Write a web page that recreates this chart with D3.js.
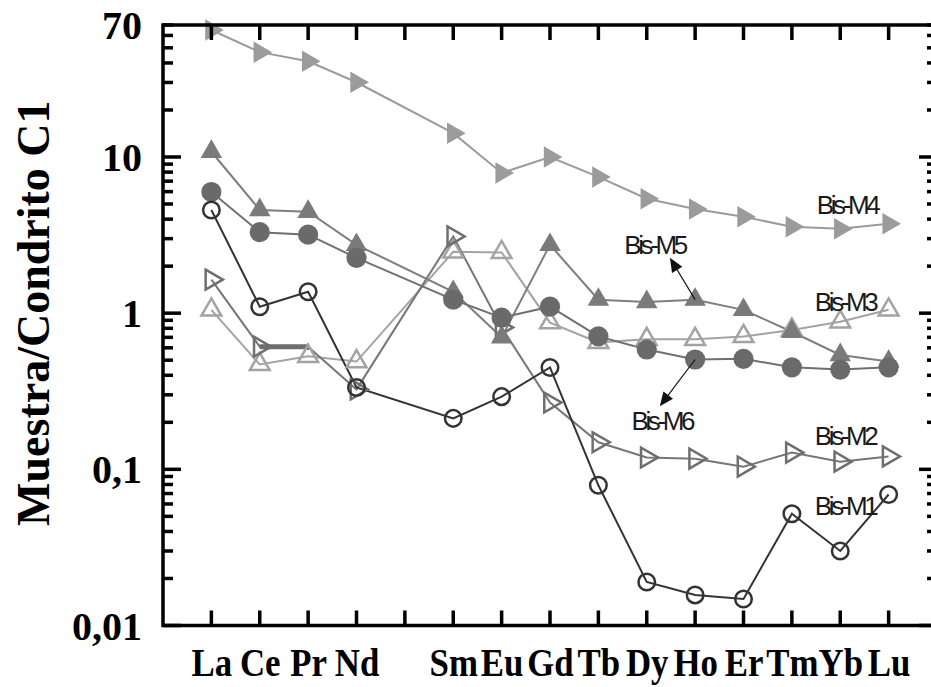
<!DOCTYPE html>
<html>
<head>
<meta charset="utf-8">
<script src="https://cdn.jsdelivr.net/npm/d3@7"></script>
<style>
  body { margin: 0; background: #fff; }
  svg { display: block; }
</style>
</head>
<body>
<svg id="chart"></svg>
<script>
// REE elements (Pm has no value and no label)
const elements = ["La", "Ce", "Pr", "Nd", "Pm", "Sm", "Eu", "Gd", "Tb", "Dy", "Ho", "Er", "Tm", "Yb", "Lu"];
const elementLabels = ["La", "Ce", "Pr", "Nd", "", "Sm", "Eu", "Gd", "Tb", "Dy", "Ho", "Er", "Tm", "Yb", "Lu"];

// sample / chondrite C1 values
const bisM1 = [4.58, 1.10, 1.37, 0.334, null, 0.212, 0.292, 0.449, 0.079, 0.019, 0.0157, 0.0148, 0.052, 0.030, 0.069];
const bisM2 = [1.64, 0.61, 0.61, 0.325, null, 3.1, 0.81, 0.268, 0.149, 0.119, 0.117, 0.104, 0.128, 0.112, 0.121];
const bisM3 = [1.05, 0.47, 0.53, 0.49, null, 2.47, 2.45, 0.87, 0.65, 0.68, 0.68, 0.71, 0.78, 0.88, 1.05];
const bisM4 = [65, 46.9, 41, 30.1, null, 14.2, 7.9, 10.0, 7.45, 5.4, 4.65, 4.14, 3.57, 3.47, 3.73];
const bisM5 = [10.8, 4.58, 4.46, 2.74, null, 1.37, 0.70, 2.74, 1.22, 1.18, 1.22, 1.05, 0.76, 0.54, 0.49];
const bisM6 = [5.97, 3.3, 3.18, 2.26, null, 1.22, 0.935, 1.10, 0.71, 0.585, 0.505, 0.51, 0.45, 0.435, 0.45];

// Bis-M2: the Pr point shows as a thick bar from Ce instead of a marker
const bisM2NoMarker = [2];

// y tick labels
const yLabelValues = [0.01, 0.1, 1, 10, 70];
const yLabelText = ["0,01", "0,1", "1", "10", "70"];

// series labels (x in element index units, y in data units)
const labelNames = ["Bis-M4", "Bis-M5", "Bis-M3", "Bis-M6", "Bis-M2", "Bis-M1"];
const labelX = [13.14, 9.16, 13.1, 9.31, 13.1, 13.1];
const labelY = [4.9, 2.74, 1.18, 0.203, 0.163, 0.058];

// arrows: from the Ho point of a series to a tip near its label
const arrowSeries = ["Bis-M5", "Bis-M6"];
const arrowFromIndex = [10, 10];
const arrowTipX = [9.48, 9.27];
const arrowTipY = [2.26, 0.253];

const serifBold = '"Liberation Serif", "Times New Roman", serif';

class reePlot {
    constructor(_config) {
        this.config = {
            parentElement: _config.parentElement,
            containerWidth: _config.containerWidth || 931,
            containerHeight: _config.containerHeight || 687,
            margin: _config.margin || {top: 25, right: -6, bottom: 61.5, left: 163}
        };
        this.series = [
            {name: "Bis-M3", values: bisM3, symbol: d3.symbolTriangle, size: 170, rotate: 0, fill: "none", stroke: "#a3a3a3", line: "#a3a3a3"},
            {name: "Bis-M2", values: bisM2, symbol: d3.symbolTriangle, size: 170, rotate: 90, fill: "none", stroke: "#6e6e6e", line: "#767676", skip: bisM2NoMarker},
            {name: "Bis-M4", values: bisM4, symbol: d3.symbolTriangle, size: 200, rotate: 90, fill: "#9b9b9b", stroke: "none", line: "#9b9b9b"},
            {name: "Bis-M5", values: bisM5, symbol: d3.symbolTriangle, size: 200, rotate: 0, fill: "#7a7a7a", stroke: "none", line: "#7e7e7e"},
            {name: "Bis-M6", values: bisM6, symbol: d3.symbolCircle, size: 320, rotate: 0, fill: "#6a6a6a", stroke: "none", line: "#707070"},
            {name: "Bis-M1", values: bisM1, symbol: d3.symbolCircle, size: 215, rotate: 0, fill: "none", stroke: "#333", line: "#333"}
        ];
        this.initVis();
    }

    initVis() {
        let vis = this;
        const m = vis.config.margin;
        vis.width = vis.config.containerWidth - m.left - m.right;
        vis.height = vis.config.containerHeight - m.top - m.bottom;

        vis.svg = d3.select(vis.config.parentElement)
            .attr('width', vis.config.containerWidth)
            .attr('height', vis.config.containerHeight);

        vis.chart = vis.svg.append('g')
            .attr('transform', `translate(${m.left},${m.top})`);

        vis.xScale = d3.scaleLinear()
            .domain([-1, elements.length])
            .range([0, vis.width]);

        vis.yScale = d3.scaleLog()
            .domain([0.01, 70])
            .range([vis.height, 0]);

        vis.updateVis();
    }

    updateVis() {
        let vis = this;
        vis.line = d3.line()
            .x(d => vis.xScale(d.i))
            .y(d => vis.yScale(d.v));
        vis.renderVis();
    }

    renderVis() {
        let vis = this;
        const m = vis.config.margin;
        const idx = d3.range(elements.length);

        // lines then markers
        vis.series.forEach(s => {
            const pts = s.values.map((v, i) => ({i: i, v: v})).filter(d => d.v !== null);
            vis.chart.append('path')
                .datum(pts)
                .attr('d', vis.line)
                .attr('fill', 'none')
                .attr('stroke', s.line)
                .attr('stroke-width', 2);
            if (s.skip) {
                // thick bar up to the hidden point
                s.skip.forEach(j => {
                    vis.chart.append('path')
                        .datum([{i: j - 1, v: s.values[j - 1]}, {i: j, v: s.values[j]}])
                        .attr('d', vis.line)
                        .attr('fill', 'none')
                        .attr('stroke', s.stroke)
                        .attr('stroke-width', 5);
                    vis.chart.append('path')
                        .datum([{i: j, v: s.values[j] * 1.05}, {i: j, v: s.values[j] / 1.05}])
                        .attr('d', vis.line)
                        .attr('fill', 'none')
                        .attr('stroke', s.stroke)
                        .attr('stroke-width', 2);
                });
            }
        });
        vis.series.forEach(s => {
            const pts = s.values.map((v, i) => ({i: i, v: v}))
                .filter(d => d.v !== null && !(s.skip || []).includes(d.i));
            vis.chart.append('g').selectAll('path')
                .data(pts)
                .join('path')
                .attr('d', d3.symbol().type(s.symbol).size(s.size))
                .attr('transform', d => `translate(${vis.xScale(d.i)},${vis.yScale(d.v)}) rotate(${s.rotate})`)
                .attr('fill', s.fill)
                .attr('stroke', s.stroke)
                .attr('stroke-width', 2.5);
        });

        // arrows with a drawn head
        arrowSeries.forEach((name, k) => {
            const s = vis.series.find(d => d.name === name);
            const i0 = arrowFromIndex[k];
            const x1 = vis.xScale(i0), y1 = vis.yScale(s.values[i0]);
            const x2 = vis.xScale(arrowTipX[k]), y2 = vis.yScale(arrowTipY[k]);
            const len = Math.hypot(x2 - x1, y2 - y1);
            const ux = (x2 - x1) / len, uy = (y2 - y1) / len;
            vis.chart.append('line')
                .attr('x1', x1).attr('y1', y1)
                .attr('x2', x2 - ux * 8).attr('y2', y2 - uy * 8)
                .attr('stroke', '#111')
                .attr('stroke-width', 1.2);
            const hp = d3.path();
            hp.moveTo(x2, y2);
            hp.lineTo(x2 - ux * 14 - uy * 6, y2 - uy * 14 + ux * 6);
            hp.lineTo(x2 - ux * 14 + uy * 6, y2 - uy * 14 - ux * 6);
            hp.closePath();
            vis.chart.append('path').attr('d', hp.toString()).attr('fill', '#111');
        });

        // series labels
        vis.chart.append('g').selectAll('text')
            .data(labelNames)
            .join('text')
            .attr('x', (d, k) => vis.xScale(labelX[k]))
            .attr('y', (d, k) => vis.yScale(labelY[k]))
            .attr('dy', '0.35em')
            .attr('text-anchor', 'middle')
            .attr('font-family', '"Liberation Sans", Arial, sans-serif')
            .attr('font-size', 26)
            .attr('letter-spacing', -3.4)
            .attr('fill', '#1a1a1a')
            .text(d => d);

        // y labels
        const yLab = vis.chart.append('g')
            .call(d3.axisLeft(vis.yScale).tickValues(yLabelValues).tickSize(0).tickPadding(21)
                .tickFormat((d, i) => yLabelText[i]));
        yLab.select('.domain').remove();
        yLab.selectAll('line').remove();
        yLab.selectAll('text')
            .attr('dy', '0.34em')
            .attr('font-family', serifBold)
            .attr('font-weight', 'bold')
            .attr('font-size', 40)
            .attr('fill', '#000');

        // x labels
        const xLab = vis.chart.append('g')
            .attr('transform', `translate(0,${vis.height})`)
            .call(d3.axisBottom(vis.xScale).tickValues(idx).tickSize(0).tickPadding(0)
                .tickFormat(i => elementLabels[i]));
        xLab.select('.domain').remove();
        xLab.selectAll('line').remove();
        xLab.selectAll('text')
            .attr('y', 0)
            .attr('dy', 0)
            .attr('transform', 'translate(0,50) scale(0.87,1)')
            .attr('font-family', serifBold)
            .attr('font-weight', 'bold')
            .attr('font-size', 40)
            .attr('fill', '#000');

        // y title
        vis.svg.append('text')
            .attr('transform', `translate(49,${m.top + vis.yScale(1)}) rotate(-90)`)
            .attr('text-anchor', 'middle')
            .attr('font-family', serifBold)
            .attr('font-weight', 'bold')
            .attr('font-size', 46)
            .text('Muestra/Condrito C1');

        // frame
        vis.chart.append('rect')
            .attr('width', vis.width)
            .attr('height', vis.height)
            .attr('fill', 'none')
            .attr('stroke', '#000')
            .attr('stroke-width', 3.5);

        // inward ticks on all four sides, as filled rects on the svg itself
        const majors = [0.01, 0.1, 1, 10];
        const minors = [];
        majors.forEach(p => d3.range(2, 10).forEach(k => { if (p * k <= 70) minors.push(p * k); }));
        const yTicks = majors.map(v => ({v: v, len: 18})).concat(minors.map(v => ({v: v, len: 10})));

        const tickG = vis.svg.append('g').attr('fill', '#000');
        tickG.selectAll('rect.yl').data(yTicks).join('rect').attr('class', 'yl')
            .attr('x', m.left).attr('width', d => d.len)
            .attr('y', d => m.top + vis.yScale(d.v) - 1.75).attr('height', 3.5);
        tickG.selectAll('rect.yr').data(yTicks).join('rect').attr('class', 'yr')
            .attr('x', d => m.left + vis.width - d.len).attr('width', d => d.len)
            .attr('y', d => m.top + vis.yScale(d.v) - 1.75).attr('height', 3.5);
        tickG.selectAll('rect.xt').data(idx).join('rect').attr('class', 'xt')
            .attr('x', d => m.left + vis.xScale(d) - 1.75).attr('width', 3.5)
            .attr('y', m.top).attr('height', 15);
        tickG.selectAll('rect.xb').data(idx).join('rect').attr('class', 'xb')
            .attr('x', d => m.left + vis.xScale(d) - 1.75).attr('width', 3.5)
            .attr('y', m.top + vis.height - 15).attr('height', 15);
    }
}

new reePlot({parentElement: '#chart'});
</script>
</body>
</html>
